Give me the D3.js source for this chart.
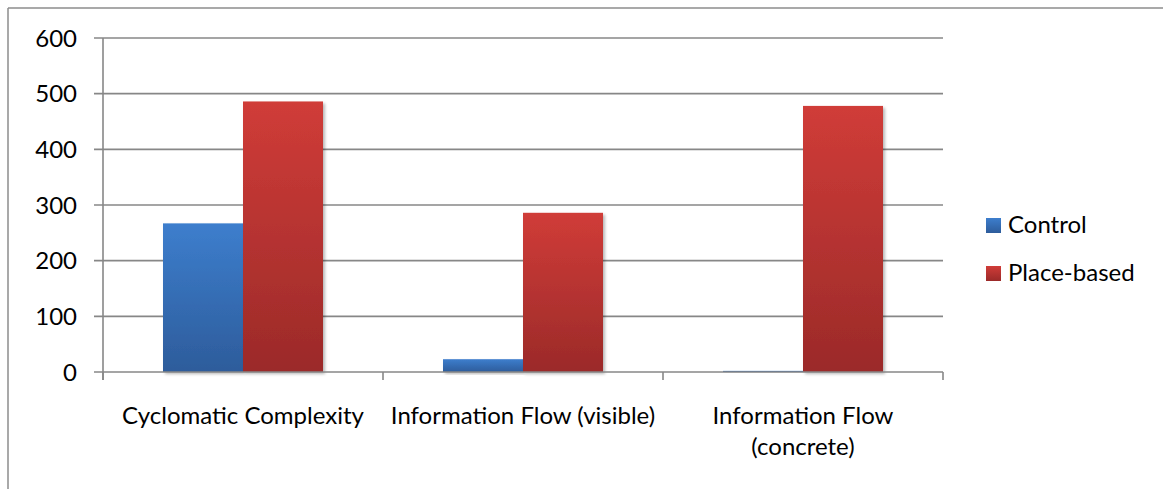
<!DOCTYPE html>
<html>
<head>
<meta charset="utf-8">
<script src="https://cdn.jsdelivr.net/npm/d3@7"></script>
<style>
  html, body { margin: 0; padding: 0; background: #fff; }
  svg { display: block; }
  text { font-family: Lato, "Open Sans", sans-serif; fill: #000; }
</style>
</head>
<body>
<svg id="chart" width="1163" height="489"></svg>
<script>
// Metric categories (each label is split into its display lines)
const categories = ["Cyclomatic Complexity", "Information Flow (visible)", "Information Flow (concrete)"];
const categoryLines = [["Cyclomatic Complexity"], ["Information Flow (visible)"], ["Information Flow", "(concrete)"]];
const seriesNames = ["Control", "Place-based"];
const controlValues = [267, 23, 2];
const placeBasedValues = [486, 286, 478];
const yTicks = [0, 100, 200, 300, 400, 500, 600];

const seriesValues = [controlValues, placeBasedValues];
const seriesColors = [
  { top: "#3d7ecd", bottom: "#2d5c9b" },
  { top: "#d03c38", bottom: "#9b2a29" }
];

const svg = d3.select("#chart");
const defs = svg.append("defs");

seriesColors.forEach((c, i) => {
  const g = defs.append("linearGradient")
    .attr("id", "grad" + i).attr("x1", 0).attr("y1", 0).attr("x2", 0).attr("y2", 1);
  g.append("stop").attr("offset", "0%").attr("stop-color", c.top);
  g.append("stop").attr("offset", "100%").attr("stop-color", c.bottom);
});

const shadow = defs.append("filter").attr("id", "barShadow")
  .attr("x", "-10%").attr("y", "-10%").attr("width", "130%").attr("height", "130%");
shadow.append("feDropShadow").attr("dx", 2).attr("dy", 2).attr("stdDeviation", 1.8)
  .attr("flood-color", "#000").attr("flood-opacity", 0.28);

// Outer chart frame (only the top and left edges fall inside the view)
svg.append("line").attr("x1", 8).attr("x2", 1163).attr("y1", 8).attr("y2", 8)
  .attr("stroke", "#8c8c8c").attr("stroke-width", 1.5);
svg.append("line").attr("x1", 8).attr("x2", 8).attr("y1", 8).attr("y2", 489)
  .attr("stroke", "#8c8c8c").attr("stroke-width", 1.5);

const plot = { left: 103, right: 943, top: 38, bottom: 372 };

const x0 = d3.scaleBand().domain(categories).range([plot.left, plot.right]).paddingInner(0).paddingOuter(0);
const x1 = d3.scaleBand().domain(seriesNames).range([0, x0.bandwidth()]).paddingInner(0).paddingOuter(0.75);
const y = d3.scaleLinear().domain([0, 600]).range([plot.bottom, plot.top]);

const axisColor = "#878787";
const fontSize = 24;

// Horizontal gridlines with small ticks left of the axis
svg.append("g").selectAll("line").data(yTicks.filter(t => t > 0)).join("line")
  .attr("x1", plot.left - 9).attr("x2", plot.right)
  .attr("y1", d => y(d)).attr("y2", d => y(d))
  .attr("stroke", axisColor).attr("stroke-width", 1.6);

// Bars
const groups = svg.append("g").selectAll("g").data(categories).join("g")
  .attr("transform", d => `translate(${x0(d)},0)`);
groups.selectAll("rect")
  .data((d, ci) => seriesNames.map((s, si) => ({ s, si, v: seriesValues[si][ci] })))
  .join("rect")
  .attr("x", d => x1(d.s))
  .attr("y", d => y(d.v))
  .attr("width", x1.bandwidth())
  .attr("height", d => y(0) - y(d.v))
  .attr("fill", d => `url(#grad${d.si})`)
  .attr("filter", "url(#barShadow)");

// Y axis line and the zero baseline
svg.append("line").attr("x1", plot.left).attr("x2", plot.left).attr("y1", plot.top).attr("y2", plot.bottom + 8)
  .attr("stroke", axisColor).attr("stroke-width", 1.6);
svg.append("line").attr("x1", plot.left - 9).attr("x2", plot.right).attr("y1", y(0)).attr("y2", y(0))
  .attr("stroke", axisColor).attr("stroke-width", 1.6);

// Category boundary ticks below the x axis
const boundaries = categories.map(c => x0(c)).concat([plot.right]);
svg.append("g").selectAll("line").data(boundaries).join("line")
  .attr("x1", d => d).attr("x2", d => d)
  .attr("y1", y(0)).attr("y2", y(0) + 8)
  .attr("stroke", axisColor).attr("stroke-width", 1.6);

// Y tick labels
svg.append("g").selectAll("text").data(yTicks).join("text")
  .attr("x", 77).attr("y", d => y(d)).attr("dy", "0.36em")
  .attr("text-anchor", "end").attr("font-size", fontSize)
  .text(d => d);

// Category labels
const catLabels = svg.append("g").selectAll("text").data(categories).join("text")
  .attr("text-anchor", "middle").attr("font-size", fontSize)
  .attr("x", d => x0(d) + x0.bandwidth() / 2).attr("y", 424);
catLabels.selectAll("tspan").data((d, i) => categoryLines[i]).join("tspan")
  .attr("x", function () { return d3.select(this.parentNode).attr("x"); })
  .attr("dy", (d, i) => i === 0 ? 0 : 31)
  .text(d => d);

// Legend
const legend = svg.append("g").selectAll("g").data(seriesNames).join("g")
  .attr("transform", (d, i) => `translate(986,${218 + i * 48})`);
legend.append("rect").attr("width", 15).attr("height", 15)
  .attr("fill", (d, i) => `url(#grad${i})`);
legend.append("text").attr("x", 22).attr("y", 14.5).attr("font-size", fontSize).text(d => d);
</script>
</body>
</html>
